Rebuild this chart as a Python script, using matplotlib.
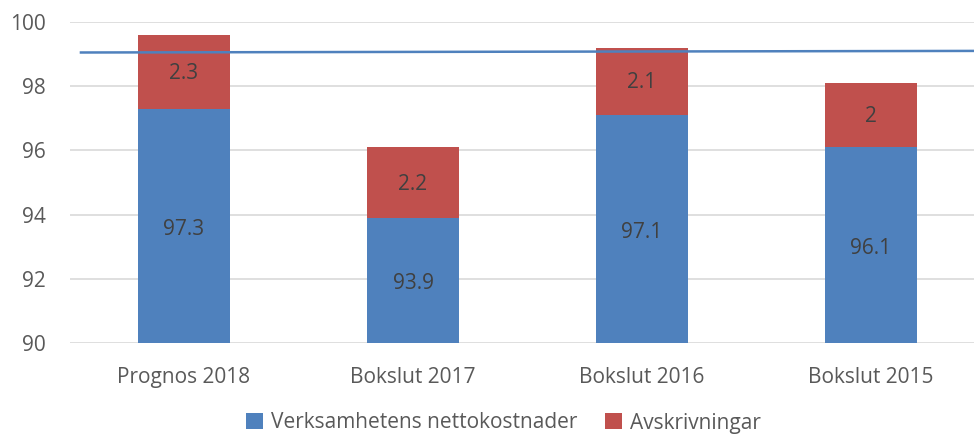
import numpy as np
from matplotlib import pyplot as plt

categories = ['Prognos 2018', 'Bokslut 2017', 'Bokslut 2016', 'Bokslut 2015']
netto = [97.3, 93.9, 97.1, 96.1]
avskr = [2.3, 2.2, 2.1, 2.0]
avskr_labels = ['2.3', '2.2', '2.1', '2']
target_y = [99.05, 99.1]

blue = '#4F81BD'
red = '#C0504D'
txt = '#595959'

plt.rcParams['font.family'] = ['Open Sans', 'DejaVu Sans']

fig = plt.figure(figsize=(9.74, 4.37), dpi=100)
ax = fig.add_axes([69.5 / 974, 94 / 437, 916 / 974, 321 / 437])

x = np.arange(len(categories))
b1 = ax.bar(x, np.array(netto) - 90, bottom=90, width=0.4, color=blue,
            label='Verksamhetens nettokostnader', zorder=2)
b2 = ax.bar(x, avskr, bottom=netto, width=0.4, color=red,
            label='Avskrivningar', zorder=2)

for i in range(len(categories)):
    ax.text(x[i], (90 + netto[i]) / 2 - 0.1, str(netto[i]), ha='center', va='center',
            fontsize=15, color='#404040', zorder=3)
    ax.text(x[i], netto[i] + avskr[i] / 2 - 0.05, avskr_labels[i], ha='center', va='center',
            fontsize=15, color='#404040', zorder=3)

ax.plot([-0.45, 3.5], target_y, color=blue, lw=1.8, zorder=4)

ax.set_xlim(-0.5, 3.5)
ax.set_ylim(90, 100)
ax.set_yticks(np.arange(90, 101, 2))
ax.set_xticks(x)
ax.set_xticklabels(categories)
ax.tick_params(length=0, labelsize=15, labelcolor=txt)
ax.tick_params(axis='x', pad=17)
ax.tick_params(axis='y', pad=17)
ax.grid(axis='y', color='#D9D9D9', lw=1.2, zorder=0)
for s in ax.spines.values():
    s.set_visible(False)

fig.legend(handles=[b1, b2], loc='center', bbox_to_anchor=(0.517, 14 / 437),
           ncol=2, frameon=False, fontsize=15, labelcolor=txt,
           handlelength=0.8, handleheight=0.8, handletextpad=0.4, columnspacing=1.3)

fig.savefig('out.png', dpi=100)
